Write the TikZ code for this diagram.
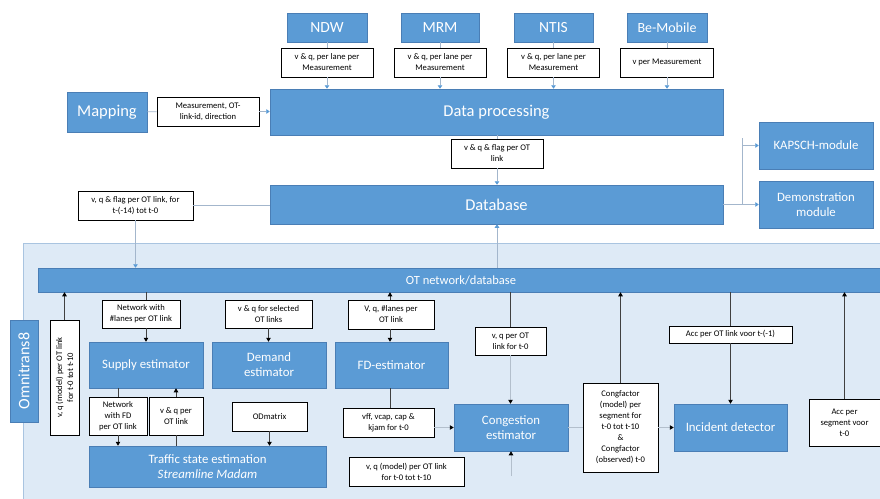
\documentclass[tikz,border=0pt]{standalone}
\usepackage{fontspec}
\setmainfont{Carlito}
\usetikzlibrary{arrows.meta}
\definecolor{boxblue}{HTML}{5B9BD5}
\definecolor{boxedge}{HTML}{4A7EB5}
\definecolor{bgblue}{HTML}{DEEAF6}
\definecolor{bgedge}{HTML}{A9C4E0}
\definecolor{topline}{HTML}{A3B6CC}
\definecolor{faint}{HTML}{B3BFCC}
\begin{document}
\begin{tikzpicture}[x=1pt,y=-1pt,
  blk/.style={fill=boxblue, draw=boxedge, line width=0.5pt, text=white, inner sep=1pt, align=center},
  lbl/.style={fill=white, draw=black, line width=0.6pt, font=\fontsize{8.6}{11}\selectfont, align=center, inner sep=1pt},
  tl/.style={draw=topline, line width=0.8pt},
  ta/.style={tl, -{Triangle[width=4.5pt,length=3.5pt,color=boxblue]}},
  ln/.style={draw=black!75, line width=0.7pt},
  ba/.style={ln, -{Triangle[width=4.5pt,length=4pt,color=black]}},
  fl/.style={draw=faint, line width=0.8pt},
  fa/.style={fl, -{Triangle[width=4.5pt,length=4pt,color=black]}}
]
\useasboundingbox (0,0) rectangle (880,498);
% background of Omnitrans region
\fill[bgblue] (23,243) rectangle (890,505);
\draw[bgedge, line width=0.8pt] (23,505) -- (23,243) -- (890,243);

% ---------- top part ----------
\node[blk, minimum width=80pt, minimum height=29pt, font=\fontsize{15.5}{17}\selectfont] (ndw) at (327,27.5) {NDW};
\node[blk, minimum width=78pt, minimum height=29pt, font=\fontsize{15.5}{17}\selectfont] (mrm) at (440,27.5) {MRM};
\node[blk, minimum width=79pt, minimum height=29pt, font=\fontsize{15.5}{17}\selectfont] (ntis) at (553.5,27.5) {NTIS};
\node[blk, minimum width=80pt, minimum height=29pt, font=\fontsize{14}{16}\selectfont] (bem) at (667,27.5) {Be-Mobile};

\node[lbl, minimum width=92pt, minimum height=29pt] (lndw) at (327,62.5) {v \& q, per lane per\\Measurement};
\node[lbl, minimum width=92pt, minimum height=29pt] (lmrm) at (440,62.5) {v \& q, per lane per\\Measurement};
\node[lbl, minimum width=92pt, minimum height=29pt] (lntis) at (553.5,62.5) {v \& q, per lane per\\Measurement};
\node[lbl, minimum width=93pt, minimum height=29pt] (lbem) at (667,62.5) {v per Measurement};

\node[blk, minimum width=453pt, minimum height=46pt, font=\fontsize{16.5}{18}\selectfont] (dp) at (496.5,112) {Data processing};
\node[blk, minimum width=80pt, minimum height=40pt, font=\fontsize{16.5}{18}\selectfont] (map) at (107,112) {Mapping};
\node[lbl, minimum width=102pt, minimum height=29pt] (lmap) at (208,111.5) {Measurement, OT-\\link-id, direction};
\node[lbl, minimum width=92pt, minimum height=29pt] (lflag) at (497,153.5) {v \& q \& flag per OT\\link};
\node[blk, minimum width=453pt, minimum height=39pt, font=\fontsize{16.5}{18}\selectfont] (db) at (496.5,204.5) {Database};
\node[lbl, minimum width=115pt, minimum height=29pt] (ldb) at (135.5,205.5) {v, q \& flag per OT link, for\\t-(-14) tot t-0};
\node[blk, minimum width=114pt, minimum height=47pt, font=\fontsize{12.8}{15}\selectfont] (kap) at (816,145.5) {KAPSCH-module};
\node[blk, minimum width=114pt, minimum height=47pt, font=\fontsize{12.8}{15}\selectfont] (demo) at (816,204.5) {Demonstration\\module};

% ---------- Omnitrans part ----------
\node[blk, minimum width=846pt, minimum height=24pt, font=\fontsize{12.5}{14}\selectfont] (ot) at (461,280) {OT network/database};
\node[blk, rotate=90, minimum width=102pt, minimum height=28pt, font=\fontsize{16}{18}\selectfont] (omni) at (24,371) {Omnitrans8};
\node[lbl, rotate=90, minimum width=115pt, minimum height=29pt] (lvq) at (64.5,377.5) {v, q (model) per OT link\\for t-0 tot t-10};

\node[blk, minimum width=114pt, minimum height=46pt, font=\fontsize{12.8}{15}\selectfont] (sup) at (146,365) {Supply estimator};
\node[lbl, minimum width=78pt, minimum height=28pt] (lsup) at (141,314) {Network with\\\#lanes per OT link};
\node[blk, minimum width=114pt, minimum height=46pt, font=\fontsize{12.8}{15}\selectfont] (dem) at (269,365) {Demand\\estimator};
\node[lbl, minimum width=87pt, minimum height=28pt] (ldem) at (268.5,314) {v \& q for selected\\OT links};
\node[lbl, minimum width=58pt, minimum height=38pt] (lfd1) at (118,416) {Network\\with FD\\per OT link};
\node[lbl, minimum width=54pt, minimum height=38pt] (lvq2) at (176,416) {v \& q per\\OT link};
\node[lbl, minimum width=75pt, minimum height=29pt] (lod) at (269.5,416.5) {ODmatrix};
\node[blk, minimum width=237pt, minimum height=41pt, font=\fontsize{12.8}{15}\selectfont] (tse) at (207.5,466.5) {Traffic state estimation\\\textit{Streamline Madam}};

\node[blk, minimum width=113pt, minimum height=46pt, font=\fontsize{12.8}{15}\selectfont] (fd) at (391.5,365) {FD-estimator};
\node[lbl, minimum width=86pt, minimum height=29pt] (lfd) at (391,314.5) {V, q, \#lanes per\\OT link};
\node[lbl, minimum width=91pt, minimum height=29pt] (lvff) at (388.5,422.5) {vff, vcap, cap \&\\kjam for t-0};
\node[blk, minimum width=114pt, minimum height=47pt, font=\fontsize{12.8}{15}\selectfont] (con) at (511,427.5) {Congestion\\estimator};
\node[lbl, minimum width=115pt, minimum height=29pt] (lmod) at (406.5,471.5) {v, q (model) per OT link\\for t-0 tot t-10};
\node[lbl, minimum width=71pt, minimum height=28pt] (lvq0) at (510.5,341) {v, q per OT\\link for t-0};
\node[lbl, minimum width=75pt, minimum height=89pt] (lcf) at (620.5,427.5) {Congfactor\\(model) per\\segment for\\t-0 tot t-10\\\&\\Congfactor\\(observed) t-0};
\node[blk, minimum width=113pt, minimum height=47pt, font=\fontsize{12.8}{15}\selectfont] (inc) at (730.5,427.5) {Incident detector};
\node[lbl, minimum width=123pt, minimum height=17pt] (lacc) at (730.5,334.5) {Acc per OT link voor t-(-1)};
\node[lbl, minimum width=71pt, minimum height=47pt] (lacc2) at (844.5,422.5) {Acc per\\segment voor\\t-0};

% ---------- connectors, top ----------
\draw[tl] (ndw) -- (lndw);  \draw[ta] (lndw) -- (lndw |- dp.north);
\draw[tl] (mrm) -- (lmrm);  \draw[ta] (lmrm) -- (lmrm |- dp.north);
\draw[tl] (ntis) -- (lntis);\draw[ta] (lntis) -- (lntis |- dp.north);
\draw[tl] (bem) -- (lbem);  \draw[ta] (lbem) -- (lbem |- dp.north);
\draw[tl] (map) -- (lmap);  \draw[ta] (lmap) -- (dp.west |- lmap);
\draw[tl] (dp.south -| lflag) -- (lflag); \draw[ta] (lflag) -- (lflag |- db.north);
\draw[tl] (db.west |- ldb) -- (ldb);
\draw[ta] (ldb.south) -- (ldb.south |- ot.north);
\draw[ta] (lflag |- ot.north) -- (lflag |- db.south);
\coordinate (jn) at (742,204.5);
\coordinate (jt) at (742,138);
\draw[tl] (db.east) -- (jn);
\draw[tl] (jn) -- (jt);
\draw[ta] (jn) -- (demo.west);
\draw[ta] (jn |- kap) -- (kap.west);

% ---------- connectors, Omnitrans ----------
\coordinate (xs) at (146,0);
\coordinate (xa) at (118,0);
\coordinate (xf) at (390,0);
\coordinate (cb) at (511,476);
\draw[ba] (lvq) -- (lvq |- ot.south);
\draw[ln] (ot.south -| xs) -- (lsup.north -| xs);
\draw[ba] (lsup.south -| xs) -- (sup.north -| xs);
\draw[ba] (ldem) -- (ldem |- dem.north);
\draw[ln] (sup.south -| xa) -- (lfd1.north -| xa);
\draw[ba] (lfd1.south -| xa) -- (tse.north -| xa);
\draw[ln] (tse.north -| lvq2) -- (lvq2);
\draw[ba] (lvq2) -- (lvq2 |- sup.south);
\draw[ba] (lod) -- (lod |- tse.north);
\draw[ba] (lfd.north -| xf) -- (ot.south -| xf);
\draw[ba] (lfd.south -| xf) -- (fd.north -| xf);
\draw[ln] (fd.south -| xf) -- (lvff.north -| xf);
\draw[fa] (lvff.east |- con) -- (con.west);
\draw[ln] (ot.south -| lvq0) -- (lvq0);
\draw[fa] (lvq0) -- (lvq0 |- con.north);
\draw[fa] (cb) -- (con.south);
\draw[fl] (con) -- (lcf);
\draw[ba] (lcf) -- (lcf |- ot.south);
\draw[fa] (lcf) -- (inc);
\draw[ln] (ot.south -| lacc) -- (lacc);
\draw[ba] (lacc) -- (lacc |- inc.north);
\draw[ba] (lacc2) -- (lacc2 |- ot.south);
\end{tikzpicture}
\end{document}
